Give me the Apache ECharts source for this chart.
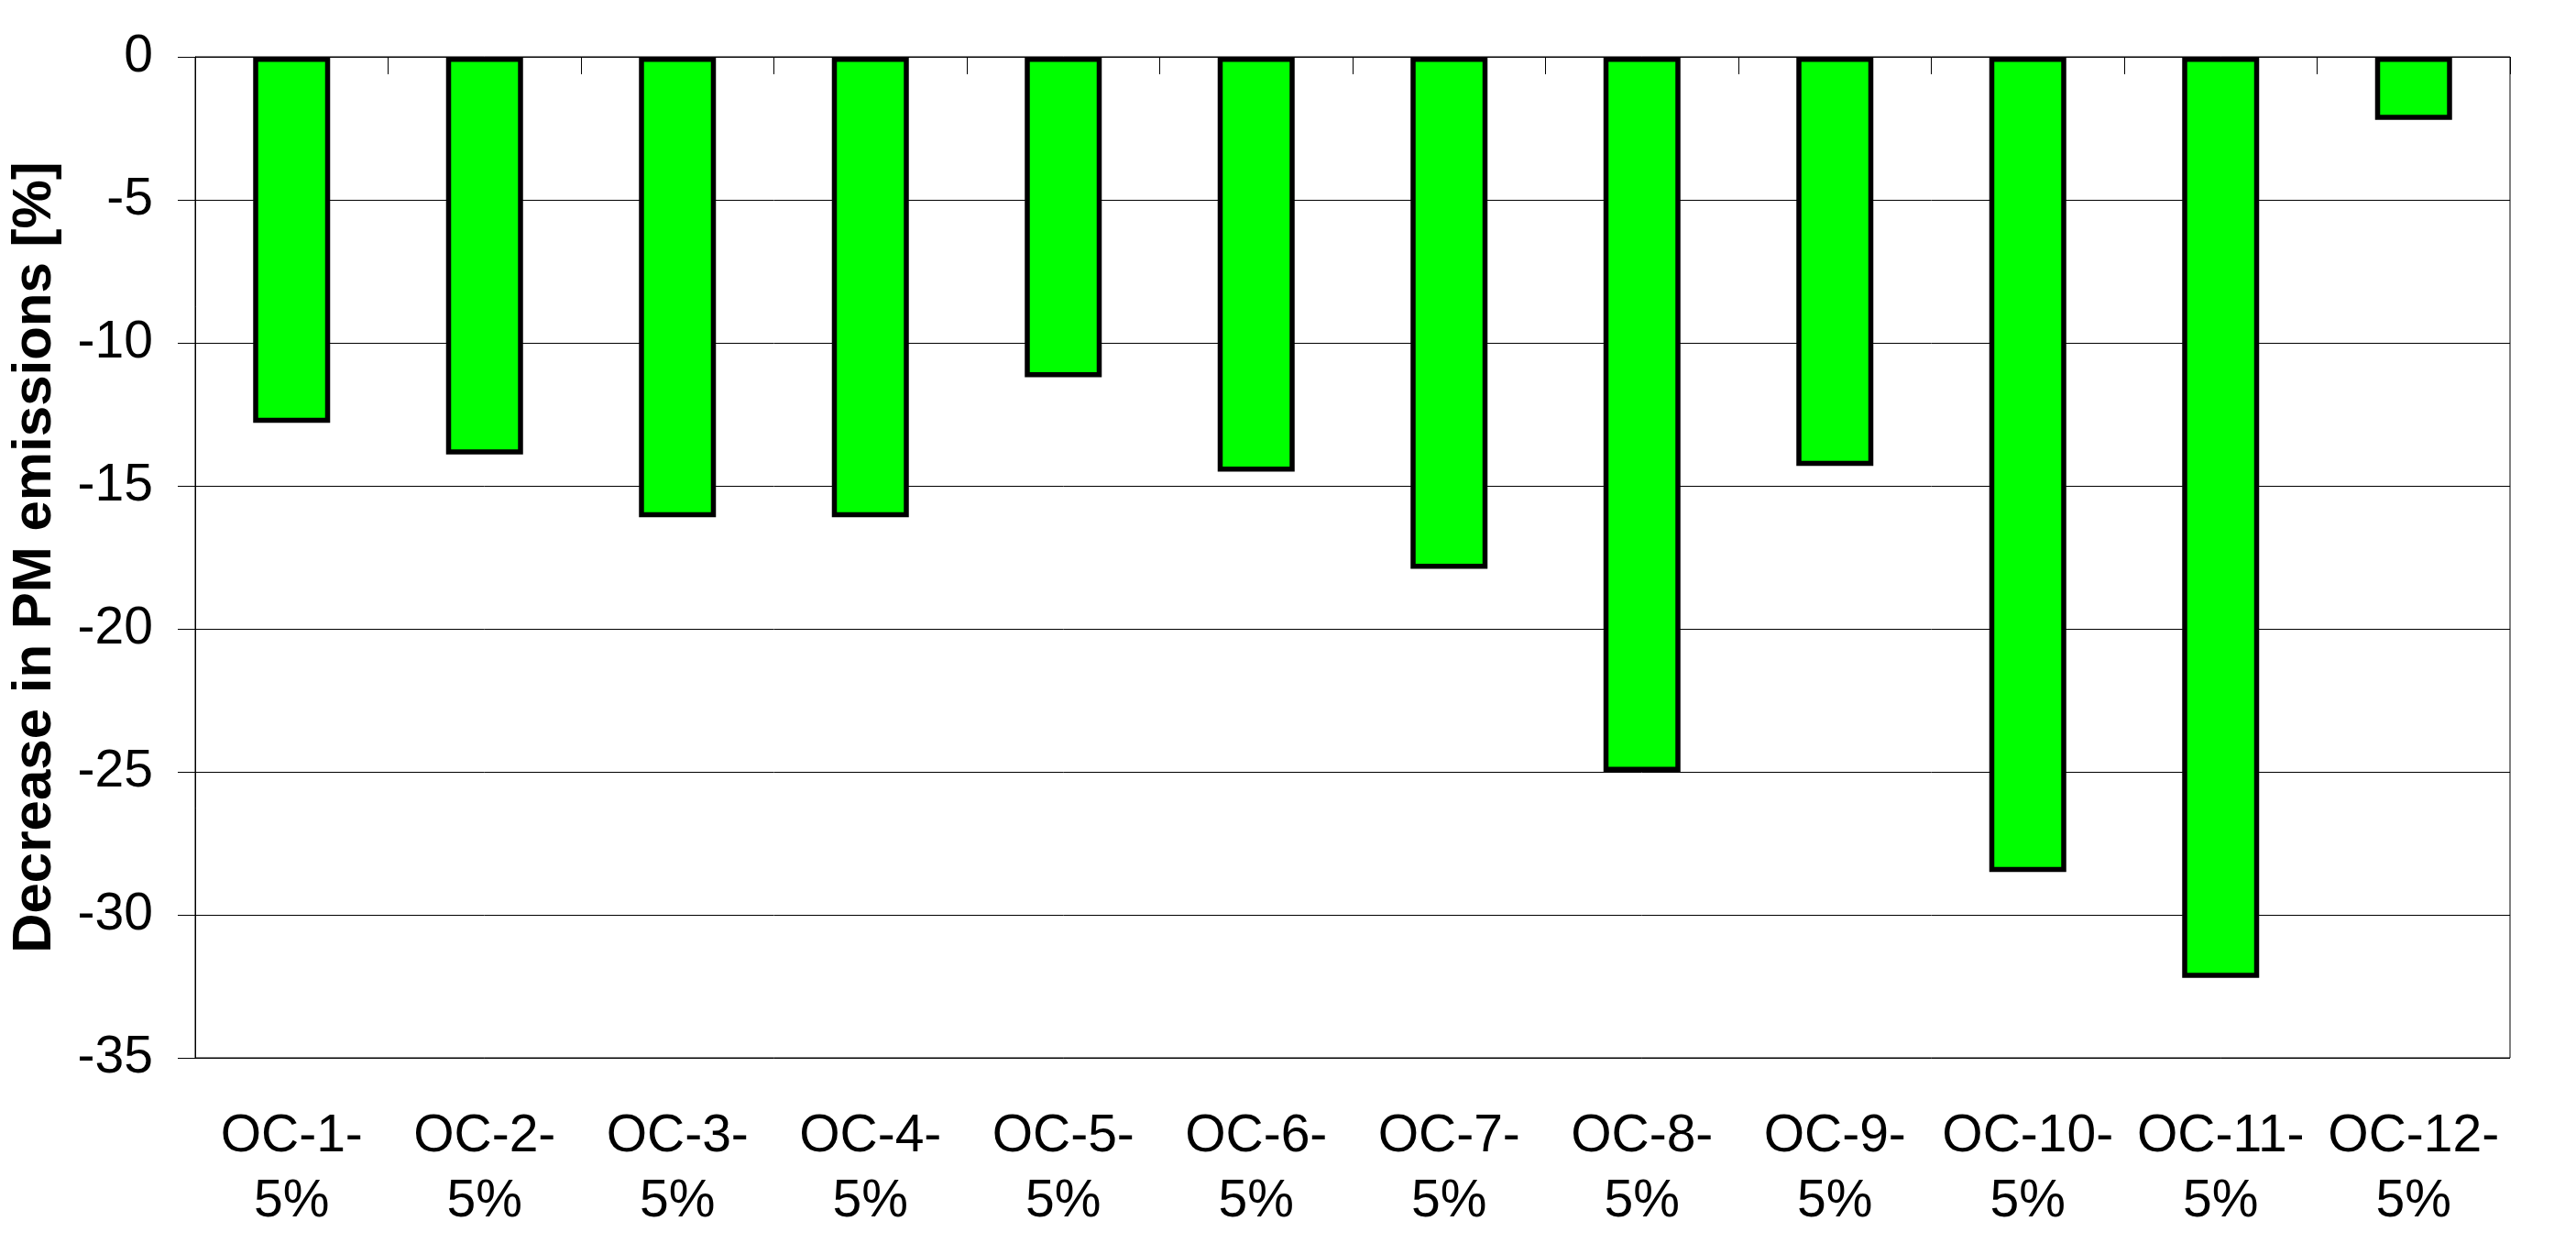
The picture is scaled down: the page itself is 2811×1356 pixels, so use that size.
<!DOCTYPE html>
<html>
<head>
<meta charset="utf-8">
<script src="https://cdn.jsdelivr.net/npm/echarts@6/dist/echarts.min.js"></script>
<style>
  html, body { margin: 0; padding: 0; background: #fff; }
  #pmChart { width: 2811px; height: 1356px; }
</style>
</head>
<body>
<div id="pmChart"></div>
<script>
// categories + values
const categories = ['OC-1-5%', 'OC-2-5%', 'OC-3-5%', 'OC-4-5%', 'OC-5-5%', 'OC-6-5%',
                    'OC-7-5%', 'OC-8-5%', 'OC-9-5%', 'OC-10-5%', 'OC-11-5%', 'OC-12-5%']
const pmDecrease = [-12.8, -13.9, -16.1, -16.1, -11.2, -14.5, -17.9, -25.0, -14.3, -28.5, -32.2, -2.2]
const yTicks = {min: -35, max: 0, step: 5}

const font = 'Arial, "Liberation Sans", sans-serif'

// "OC-1-5%" -> "OC-1-\n5%"
const splitLabel = function (val) {
  const i = val.lastIndexOf('-')
  return val.slice(0, i + 1) + '\n' + val.slice(i + 1)
}

const initChart = function () {
  const chart = echarts.init(document.getElementById('pmChart'), null, {renderer: 'canvas'})

  chart.setOption({
    animation: false,
    backgroundColor: '#ffffff',
    grid: {
      left: 208,
      right: 72,
      top: 62,
      bottom: 202,
      show: true,
      borderColor: '#000',
      borderWidth: 1,
    },
    xAxis: [{
      type: 'category',
      data: categories,
      position: 'bottom',
      axisLine: {show: true, lineStyle: {color: '#000', width: 1}},
      axisTick: {show: false},
      axisLabel: {
        color: '#000',
        fontFamily: font,
        fontSize: 57,
        lineHeight: 71,
        margin: 51,
        interval: 0,
        formatter: splitLabel,
      },
    }, {
      // ticks hanging down from the zero line, like the original
      type: 'category',
      data: categories,
      position: 'top',
      axisLine: {show: false},
      axisTick: {show: true, inside: true, length: 19, lineStyle: {color: '#000', width: 1}},
      axisLabel: {show: false},
    }],
    yAxis: {
      type: 'value',
      min: yTicks.min,
      max: yTicks.max,
      interval: yTicks.step,
      name: 'Decrease in PM emissions [%]',
      nameLocation: 'middle',
      nameGap: 145,
      nameTextStyle: {
        color: '#000',
        fontFamily: font,
        fontSize: 60,
        fontWeight: 'bold',
      },
      axisLine: {show: true, lineStyle: {color: '#000', width: 1}},
      axisTick: {show: true, inside: false, length: 19, lineStyle: {color: '#000', width: 1}},
      splitLine: {show: true, lineStyle: {color: '#000', width: 1}},
      axisLabel: {
        color: '#000',
        fontFamily: font,
        fontSize: 57,
        margin: 46,
      },
    },
    series: [{
      type: 'bar',
      data: pmDecrease,
      barWidth: 84,
      itemStyle: {
        color: '#00ff00',
        borderColor: '#000',
        borderWidth: 5.5,
      },
    }],
  })
}

initChart()
</script>
</body>
</html>
